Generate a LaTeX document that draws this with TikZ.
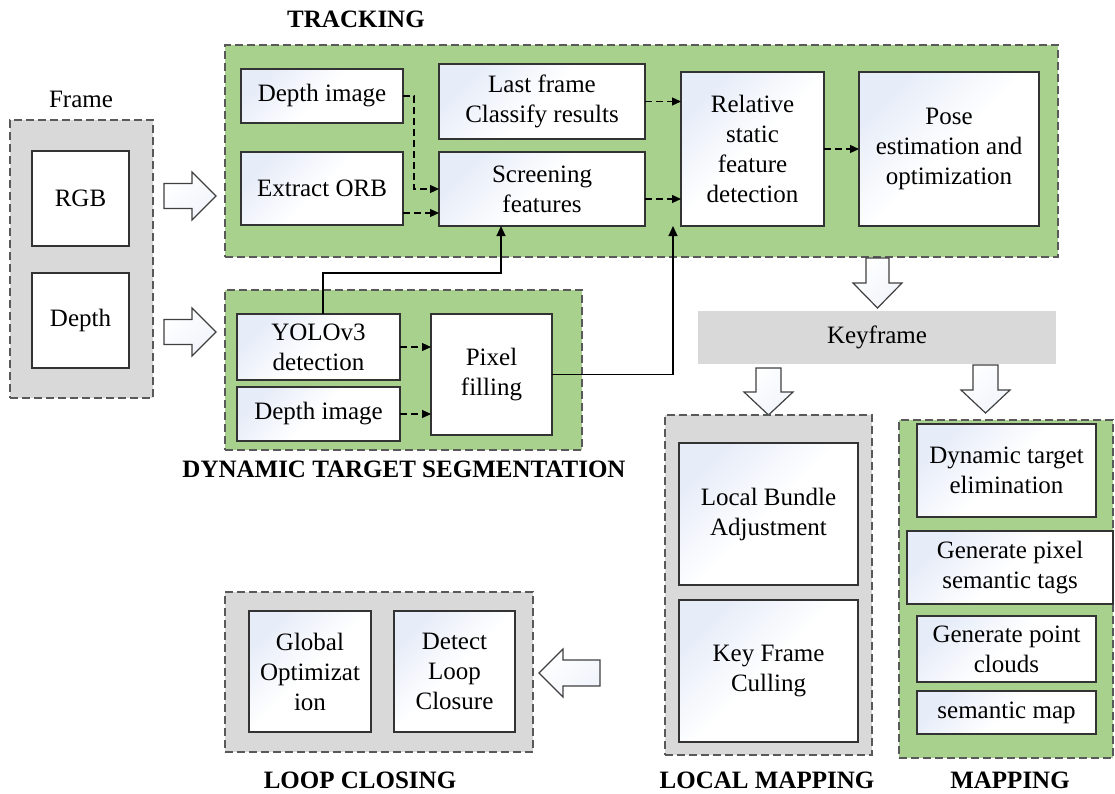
\documentclass[tikz,border=0pt]{standalone}
\usepackage{fontspec}
\setmainfont{Liberation Serif}
\usetikzlibrary{arrows.meta,calc}
\definecolor{grn}{HTML}{A9D18E}
\definecolor{gry}{HTML}{D9D9D9}
\definecolor{tint}{HTML}{E6ECF8}
\definecolor{bord}{HTML}{595959}
\begin{document}
\begin{tikzpicture}[x=1pt,y=-1pt, font=\fontsize{25}{30}\selectfont,
  container/.style={draw=bord, line width=1.8pt, dash pattern=on 8pt off 4pt, inner sep=0pt, outer sep=0pt},
  gcont/.style={container, fill=grn},
  ycont/.style={container, fill=gry},
  ibox/.style={draw=black!80, line width=1.3pt, top color=tint, bottom color=white, middle color=white, shading angle=45, inner sep=0pt, outer sep=0pt, align=center},
  wbox/.style={draw=black!80, line width=1.3pt, fill=white, inner sep=0pt, outer sep=0pt, align=center},
  keybar/.style={fill=gry, inner sep=0pt, outer sep=0pt},
  title/.style={font=\fontsize{25}{30}\selectfont\bfseries, anchor=base, inner sep=0pt},
  plain/.style={anchor=base, inner sep=0pt},
  dconn/.style={line width=1.2pt, dash pattern=on 7pt off 4pt, -{Triangle[length=9pt,width=8pt]}},
  sconn/.style={line width=1.2pt, -{Triangle[length=10pt,width=9pt]}},
  hollow/.style={draw=black!75, line width=1.2pt, top color=white, bottom color=tint!60, shading angle=45}
]
\useasboundingbox (0,0) rectangle (1115,793);

% ---------- Frame ----------
\node[plain] (tframe) at (81,107) {Frame};
\node[ycont, minimum width=143, minimum height=278] (fr) at (81.5,259) {};
\node[wbox, minimum width=97, minimum height=95] (rgb) at (80.5,198.5) {RGB};
\node[wbox, minimum width=97, minimum height=95] (dep) at (80.5,320.5) {Depth};

% block arrows
\path[hollow] (164,183.5)--(192,183.5)--(192,172)--(216,196)--(192,220)--(192,208.5)--(164,208.5)--cycle;
\path[hollow] (164,319.5)--(192,319.5)--(192,308)--(216,332)--(192,356)--(192,344.5)--(164,344.5)--cycle;

% ---------- Tracking ----------
\node[title] (ttrk) at (356,27) {TRACKING};
\node[gcont, minimum width=833, minimum height=212] (trk) at (641.5,151) {};
\node[ibox, minimum width=162, minimum height=54] (dimg) at (322,96) {Depth image};
\node[ibox, minimum width=162, minimum height=73] (orb) at (322,188.5) {Extract ORB};
\node[ibox, minimum width=206, minimum height=75] (lf) at (542,101.5) {Last frame\\Classify results};
\node[ibox, minimum width=206, minimum height=74] (scr) at (542,189) {Screening\\features};
\node[ibox, minimum width=143, minimum height=154] (rel) at (752.5,149) {Relative\\static\\feature\\detection};
\node[ibox, minimum width=180, minimum height=154] (pose) at (949,149) {Pose\\estimation and\\optimization};

\coordinate (bx) at (414,0);
\coordinate (oy) at (0,213);
\coordinate (sy) at (0,199);
\draw[dconn] (dimg.east) -- (dimg.east -| bx) |- (scr.west);
\draw[dconn] (orb.east |- oy) -- (scr.west |- oy);
\draw[dconn] (lf.east) -- (rel.west |- lf.east);
\draw[dconn] (scr.east |- sy) -- (rel.west |- sy);
\draw[dconn] (rel.east) -- (pose.west |- rel.east);

% ---------- Dynamic target segmentation ----------
\node[gcont, minimum width=357, minimum height=160] (dts) at (403.5,370) {};
\node[title] (tdts) at (404,477) {DYNAMIC TARGET SEGMENTATION};
\node[ibox, minimum width=163, minimum height=66] (yolo) at (318.5,347) {YOLOv3\\detection};
\node[ibox, minimum width=163, minimum height=54] (d2) at (318.5,414) {Depth image};
\node[wbox, minimum width=121, minimum height=121] (pix) at (491.5,374.5) {Pixel\\filling};
\draw[dconn] (yolo.east) -- (pix.west |- yolo.east);
\draw[dconn] (d2.east) -- (pix.west |- d2.east);

\coordinate (k1) at (323,273);
\coordinate (k2) at (501,273);
\coordinate (k3) at (673,374.5);
\draw[sconn] (yolo.north -| k1) -- (k1) -- (k2) -- (scr.south -| k2);
\draw[sconn] (pix.east) -- (k3) -- (k3 |- rel.south);

% ---------- Keyframe ----------
\path[hollow] (866,258)--(889,258)--(889,283)--(902,283)--(877.5,308)--(853,283)--(866,283)--cycle;
\node[keybar, minimum width=358, minimum height=53] (key) at (877,337.5) {Keyframe};
\path[hollow] (756,368)--(781,368)--(781,392)--(793,392)--(768.5,415)--(744,392)--(756,392)--cycle;
\path[hollow] (973,365)--(998,365)--(998,390)--(1010,390)--(985.5,413)--(961,390)--(973,390)--cycle;

% ---------- Local mapping ----------
\node[ycont, minimum width=207, minimum height=340] (lm) at (768.5,585) {};
\node[ibox, minimum width=179, minimum height=142] (lba) at (768.5,514) {Local Bundle\\Adjustment};
\node[ibox, minimum width=179, minimum height=142] (kfc) at (768.5,671) {Key Frame\\Culling};
\node[title] (tlm) at (767,788) {LOCAL MAPPING};

% ---------- Mapping ----------
\node[gcont, minimum width=214, minimum height=338] (map) at (1006,589) {};
\node[ibox, minimum width=179, minimum height=93] (dte) at (1006.5,470.5) {Dynamic target\\elimination};
\node[ibox, minimum width=206, minimum height=73] (gps) at (1010,567.5) {Generate pixel\\semantic tags};
\node[ibox, minimum width=179, minimum height=66] (gpc) at (1006.5,649) {Generate point\\clouds};
\node[ibox, minimum width=179, minimum height=43] (smap) at (1006.5,712.5) {semantic map};
\node[title] (tmap) at (1010,788) {MAPPING};

% ---------- Loop closing ----------
\node[ycont, minimum width=308, minimum height=160] (lc) at (379,672) {};
\node[ibox, minimum width=122, minimum height=121] (glob) at (310,671.5) {Global\\Optimizat\\ion};
\node[ibox, minimum width=121, minimum height=121] (dlc) at (454.5,671.5) {Detect\\Loop\\Closure};
\node[title] (tlc) at (360,788) {LOOP CLOSING};
\path[hollow] (600,660)--(563,660)--(563,649)--(539,673)--(563,697)--(563,686)--(600,686)--cycle;

\end{tikzpicture}
\end{document}
